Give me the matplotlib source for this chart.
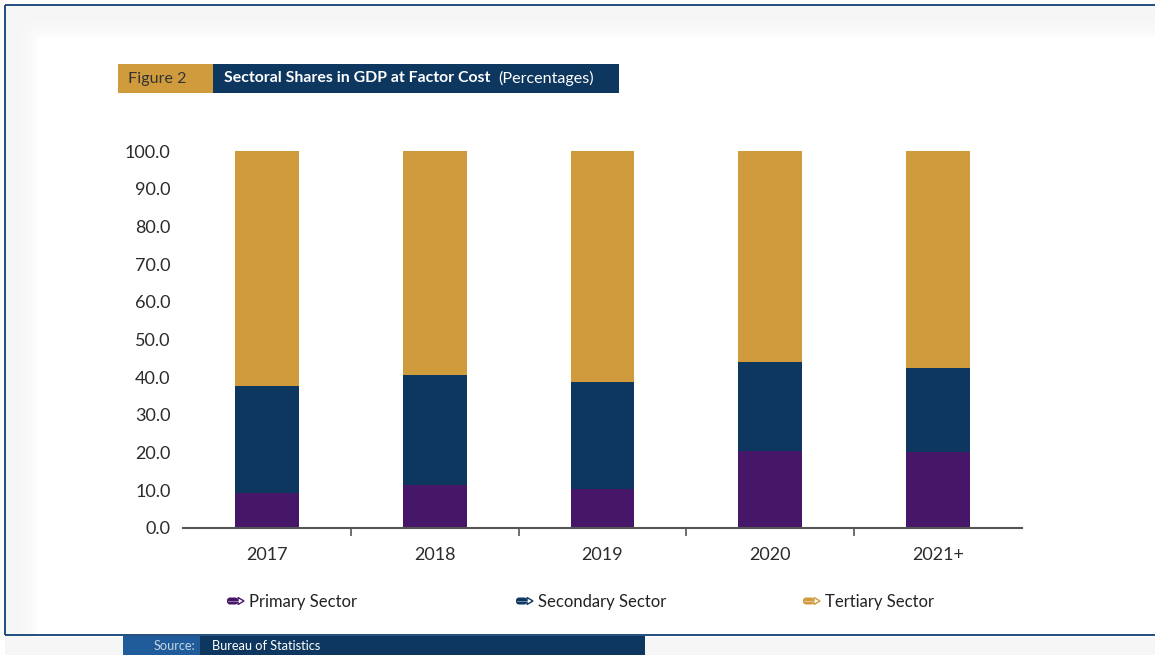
import matplotlib
matplotlib.use("Agg")
import matplotlib.pyplot as plt
import numpy as np
from matplotlib.patches import Rectangle, Polygon, FancyBboxPatch
from matplotlib import font_manager

# ---------------- data ----------------
years = ["2017", "2018", "2019", "2020", "2021+"]
primary = [9.2, 11.4, 10.3, 20.5, 20.2]
secondary = [28.5, 29.2, 28.3, 23.6, 22.3]
tertiary = [62.3, 59.4, 61.4, 55.9, 57.5]
series_names = ["Primary Sector", "Secondary Sector", "Tertiary Sector"]
y_ticks = [0, 10, 20, 30, 40, 50, 60, 70, 80, 90, 100]

# ---------------- style ----------------
C_PRI = "#461668"
C_SEC = "#0E3760"
C_TER = "#D09B3D"
colors = [C_PRI, C_SEC, C_TER]
FRAME = "#1F4E7E"
plt.rcParams["font.family"] = ["Lato", "DejaVu Sans"]

installed = {f.name for f in font_manager.fontManager.ttflist}
narrow = [f for f in ["Liberation Sans Narrow", "DejaVu Sans Condensed"] if f in installed]
src_fam = narrow + ["Lato", "DejaVu Sans"]
src_size = 10.5 if narrow else 9.2

W, H = 1155, 655
fig = plt.figure(figsize=(W / 100, H / 100), dpi=100)
fig.patch.set_facecolor("white")

# background / decoration axes in pixel coordinates
bg = fig.add_axes([0, 0, 1, 1], zorder=-5)
bg.set_xlim(0, W)
bg.set_ylim(H, 0)
bg.axis("off")

# soft box shadow inside the frame
yy, xx = np.mgrid[0:H, 0:W].astype(float)
x0, y0 = 38.0, 38.0
d = np.hypot(np.clip(x0 - xx, 0, None), np.clip(y0 - yy, 0, None))
shade = 0.035 * (1 - np.exp(-d / 8.0))
img = np.ones((H, W, 3))
img -= shade[..., None]
img[yy > 636] = [0.965, 0.968, 0.968]
img[(xx < 5)] = [1, 1, 1]
img[(yy < 5)] = [1, 1, 1]
bg.imshow(img, extent=(0, W, H, 0), aspect="auto", interpolation="bilinear", zorder=0)

# frame lines
bg.plot([5, W], [5, 5], color=FRAME, lw=1.4, zorder=2, solid_capstyle="butt")
bg.plot([5, 5], [5, 635], color=FRAME, lw=1.4, zorder=2, solid_capstyle="butt")
bg.plot([5, W], [635, 635], color=FRAME, lw=1.4, zorder=2, solid_capstyle="butt")

# header
bg.add_patch(Rectangle((118, 64), 95, 29, facecolor=C_TER, edgecolor="none", zorder=3))
bg.add_patch(Rectangle((213, 64), 406, 29, facecolor=C_SEC, edgecolor="none", zorder=3))
bg.text(128, 78.5, "Figure 2", color="#333333", fontsize=11.6, va="center", ha="left", zorder=4)
t1 = bg.text(224, 78.5, "Sectoral Shares in GDP at Factor Cost", color="white", fontsize=11.4,
             fontweight="bold", va="center", ha="left", zorder=4)
fig.canvas.draw()
bb = t1.get_window_extent()
bg.text(bb.x1 + 8, 78.5, "(Percentages)", color="white", fontsize=11.6, va="center",
        ha="left", zorder=4)

# source box
bg.add_patch(Rectangle((123, 636), 77, 19, facecolor="#1F5C99", edgecolor="none", zorder=3))
bg.add_patch(Rectangle((200, 636), 445, 19, facecolor=C_SEC, edgecolor="none", zorder=3))
bg.text(195, 645.5, "Source:", color="#C9D5E4", fontsize=src_size, va="center", ha="right",
        family=src_fam, zorder=4)
bg.text(212, 645.5, "Bureau of Statistics", color="white", fontsize=src_size, va="center",
        ha="left", family=src_fam, zorder=4)

# ---------------- main chart ----------------
ax = fig.add_axes([183 / W, 1 - 528 / H, (1022 - 183) / W, (528 - 151) / H])
ax.set_facecolor("none")
x = np.arange(len(years))
bottom = np.zeros(len(years))
for vals, col in zip([primary, secondary, tertiary], colors):
    ax.bar(x, vals, width=0.38, bottom=bottom, color=col, edgecolor="none", zorder=2)
    bottom += np.array(vals)

ax.set_xlim(-0.5, len(years) - 0.5)
ax.set_ylim(0, 100)
ax.set_yticks(y_ticks)
ax.set_yticklabels([f"{v:.1f}" for v in y_ticks])
ax.set_xticks(x)
ax.set_xticklabels(years)
ax.set_xticks(x[:-1] + 0.5, minor=True)
for s in ["top", "right", "left"]:
    ax.spines[s].set_visible(False)
ax.spines["bottom"].set_color("#555555")
ax.spines["bottom"].set_linewidth(1.5)
ax.tick_params(axis="y", length=0, pad=9, labelsize=13, labelcolor="#2B2B2B")
ax.tick_params(axis="x", which="major", length=0, pad=13.5, labelsize=13, labelcolor="#2B2B2B")
ax.tick_params(axis="x", which="minor", length=6, width=1.2, color="#555555", direction="out")

# ---------------- legend (manual, pencil-like icons) ----------------
leg_x = [225, 514, 801]
leg_y = 601
for lx, name, col in zip(leg_x, series_names, colors):
    body = FancyBboxPatch((lx + 2, leg_y - 3.5), 11, 7,
                          boxstyle="round,pad=0,rounding_size=3",
                          facecolor=col, edgecolor="none", zorder=5)
    bg.add_patch(body)
    bg.plot([lx + 3, lx + 13], [leg_y, leg_y], color="white", lw=0.6, alpha=0.5, zorder=6)
    tip = Polygon([[lx + 13, leg_y - 3.5], [lx + 19, leg_y], [lx + 13, leg_y + 3.5]],
                  closed=True, facecolor="white", edgecolor=col, lw=1.0, zorder=5)
    bg.add_patch(tip)
    bg.text(lx + 24, leg_y + 0.5, name, color="#222222", fontsize=12, va="center",
            ha="left", zorder=5)

fig.savefig("out.png", dpi=100, facecolor=fig.get_facecolor())
